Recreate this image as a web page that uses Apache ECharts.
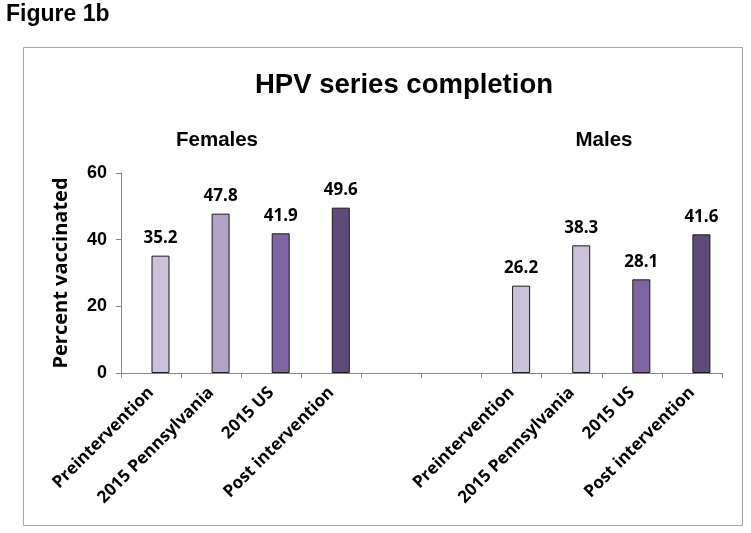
<!DOCTYPE html>
<html>
<head>
<meta charset="utf-8">
<script src="https://cdn.jsdelivr.net/npm/echarts@6/dist/echarts.min.js"></script>
<style>html,body{margin:0;padding:0;background:#fff;}#c{width:751px;height:533px;}</style>
</head>
<body>
<div id="c"></div>
<script>
var groupCategories = ['Preintervention', '2015 Pennsylvania', '2015 US', 'Post intervention'];
var femaleValues = [35.2, 47.8, 41.9, 49.6];
var maleValues = [26.2, 38.3, 28.1, 41.6];
var femaleColors = ['#CCC1DA', '#B3A2C7', '#8064A2', '#604A7B'];
var maleColors = ['#CCC1DA', '#CCC1DA', '#8064A2', '#604A7B'];
var yTicks = [0, 20, 40, 60];

var categories = groupCategories.concat(['', '']).concat(groupCategories);
var barData = [];
femaleValues.forEach(function (v, i) { barData.push({ value: v, itemStyle: { color: femaleColors[i] } }); });
barData.push(null, null);
maleValues.forEach(function (v, i) { barData.push({ value: v, itemStyle: { color: maleColors[i] } }); });
var spacer = categories.map(function () { return null; });

var chart = echarts.init(document.getElementById('c'), null, { renderer: 'canvas' });
chart.setOption({
  backgroundColor: '#ffffff',
  animation: false,
  grid: { left: 121, right: 29, top: 173, bottom: 160, containLabel: false },
  xAxis: {
    type: 'category',
    data: categories,
    boundaryGap: true,
    axisLine: { lineStyle: { color: '#868686', width: 1 } },
    axisTick: { show: true, length: 5, lineStyle: { color: '#868686' } },
    axisLabel: {
      interval: 0, rotate: 45, margin: 17,
      fontFamily: 'Open Sans', fontWeight: 'bold', fontSize: 17, color: '#000'
    }
  },
  yAxis: {
    type: 'value', min: yTicks[0], max: yTicks[yTicks.length - 1], interval: 20,
    name: 'Percent vaccinated', nameLocation: 'middle', nameGap: 50,
    nameTextStyle: { fontFamily: 'Open Sans', fontWeight: 'bold', fontSize: 20, color: '#000' },
    splitLine: { show: false },
    axisLine: { show: true, lineStyle: { color: '#868686', width: 1 } },
    axisTick: { show: true, length: 5, lineStyle: { color: '#868686' } },
    axisLabel: { margin: 14, fontFamily: 'Liberation Sans', fontWeight: 'bold', fontSize: 18, color: '#000' }
  },
  series: [
    { type: 'bar', name: 'spacer', data: spacer, barWidth: 18, barGap: '5%', silent: true },
    {
      type: 'bar', name: 'HPV series completion', data: barData, barWidth: 18,
      itemStyle: { borderColor: '#1a1a1a', borderWidth: 1 },
      label: {
        show: true, position: 'top', distance: 9,
        fontFamily: 'Open Sans', fontWeight: 'bold', fontSize: 17, color: '#000',
        formatter: function (p) { return p.value.toFixed(1); }
      }
    }
  ],
  graphic: [
    { type: 'rect', shape: { x: 23.5, y: 47.5, width: 719, height: 478 }, style: { fill: 'none', stroke: '#A6A6A6', lineWidth: 1 }, silent: true },
    { type: 'text', x: 6, y: 15, style: { text: 'Figure 1b', font: 'bold 23px "Liberation Sans"', fill: '#000', textAlign: 'left', textVerticalAlign: 'middle' } },
    { type: 'text', x: 404, y: 85, style: { text: 'HPV series completion', font: 'bold 27.5px "Liberation Sans"', fill: '#000', textAlign: 'center', textVerticalAlign: 'middle' } },
    { type: 'text', x: 217, y: 140, style: { text: 'Females', font: 'bold 20.5px "Liberation Sans"', fill: '#000', textAlign: 'center', textVerticalAlign: 'middle' } },
    { type: 'text', x: 604, y: 140, style: { text: 'Males', font: 'bold 20.5px "Liberation Sans"', fill: '#000', textAlign: 'center', textVerticalAlign: 'middle' } }
  ]
});
</script>
</body>
</html>
